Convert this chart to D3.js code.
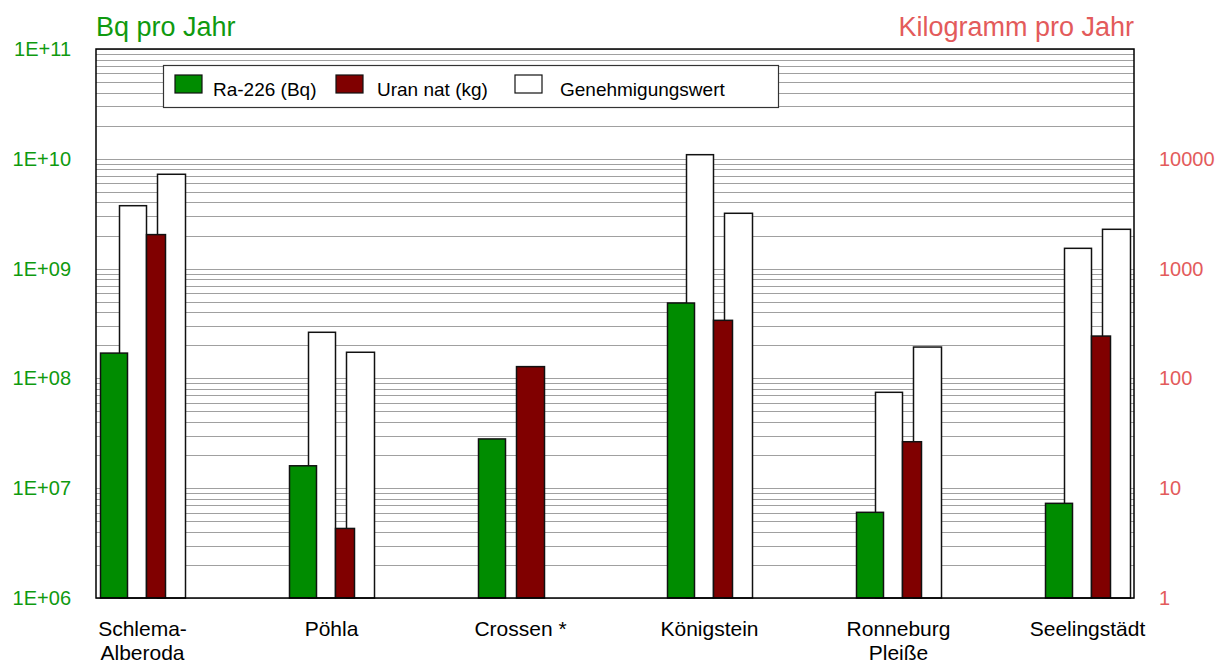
<!DOCTYPE html>
<html>
<head>
<meta charset="utf-8">
<script src="https://cdn.jsdelivr.net/npm/d3@7"></script>
<style>
  body { margin: 0; background: #fff; }
  text { font-family: "Liberation Sans", Arial, sans-serif; }
</style>
</head>
<body>
<div id="chart"></div>
<script>
// Categories (line breaks with "\n")
var sites = ["Schlema-\nAlberoda", "Pöhla", "Crossen *", "Königstein", "Ronneburg\nPleiße", "Seelingstädt"];

// Ra-226 discharge, Bq per year, and its permit value
var ra226 = [1.70e8, 1.60e7, 2.81e7, 4.86e8, 6.03e6, 7.28e6];
var ra226Permit = [3.74e9, 2.63e8, null, 1.09e10, 7.47e7, 1.53e9];

// natural uranium discharge, kg per year, and its permit value
var uran = [2040, 4.3, 128, 338, 26.5, 243];
var uranPermit = [7230, 173, null, 3190, 193, 2280];

// tick labels
var bqTicks = [1e6, 1e7, 1e8, 1e9, 1e10, 1e11];
var bqTickLabels = ["1E+06", "1E+07", "1E+08", "1E+09", "1E+10", "1E+11"];
var kgTicks = [1, 10, 100, 1000, 10000];
var kgTickLabels = ["1", "10", "100", "1000", "10000"];

var legendNames = ["Ra-226 (Bq)", "Uran nat (kg)", "Genehmigungswert"];

//Width and height
var w = 1230;
var h = 664;
var plotLeft = 96, plotRight = 1134, plotTop = 49, plotBottom = 598;

var green = "#008c00";
var maroon = "#800000";
var textGreen = "#0f9a0f";
var textRed = "#e35b5b";

var svg = d3.select("#chart")
            .append("svg")
            .attr("width", w)
            .attr("height", h);

//Scales
var x = d3.scaleBand()
          .domain(d3.range(sites.length))
          .range([48, 1182]);

var yBq = d3.scaleLog()
            .domain([1e6, 1e11])
            .range([plotBottom, plotTop]);

var yKg = d3.scaleLog()
            .domain([1, 1e5])
            .range([plotBottom, plotTop]);

function center(i) { return x(i) + x.bandwidth() / 2; }

//Gridlines: every 1..9 per decade
var grid = [];
for (var e = 6; e < 11; e++) {
    for (var m = 1; m <= 9; m++) grid.push(m * Math.pow(10, e));
}
grid.push(1e11);

svg.append("g")
   .selectAll("line")
   .data(grid)
   .enter()
   .append("line")
   .attr("x1", plotLeft)
   .attr("x2", plotRight)
   .attr("y1", function(d) { return Math.round(yBq(d)) + 0.5; })
   .attr("y2", function(d) { return Math.round(yBq(d)) + 0.5; })
   .attr("stroke", "#a0a0a0")
   .attr("stroke-width", 1.2);

var bars = svg.append("g")
              .attr("stroke", "#111")
              .attr("stroke-width", 1.5);

//Ra permit (white, behind green)
bars.selectAll(".raPermit")
    .data(d3.range(sites.length).filter(function(i) { return ra226Permit[i] != null; }))
    .enter()
    .append("rect")
    .attr("x", function(i) { return center(i) - 23; })
    .attr("width", 27)
    .attr("y", function(i) { return yBq(ra226Permit[i]); })
    .attr("height", function(i) { return plotBottom - yBq(ra226Permit[i]); })
    .attr("fill", "#fff");

//Ra-226
bars.selectAll(".ra")
    .data(d3.range(sites.length))
    .enter()
    .append("rect")
    .attr("x", function(i) { return center(i) - 42; })
    .attr("width", 27)
    .attr("y", function(i) { return yBq(ra226[i]); })
    .attr("height", function(i) { return plotBottom - yBq(ra226[i]); })
    .attr("fill", green);

//Uran permit (white, behind red)
bars.selectAll(".uPermit")
    .data(d3.range(sites.length).filter(function(i) { return uranPermit[i] != null; }))
    .enter()
    .append("rect")
    .attr("x", function(i) { return center(i) + 15; })
    .attr("width", 28)
    .attr("y", function(i) { return yKg(uranPermit[i]); })
    .attr("height", function(i) { return plotBottom - yKg(uranPermit[i]); })
    .attr("fill", "#fff");

//Uran nat
bars.selectAll(".uran")
    .data(d3.range(sites.length))
    .enter()
    .append("rect")
    .attr("x", function(i) { return uranPermit[i] == null ? center(i) - 4 : center(i) + 4; })
    .attr("width", function(i) { return uranPermit[i] == null ? 28 : 19; })
    .attr("y", function(i) { return yKg(uran[i]); })
    .attr("height", function(i) { return plotBottom - yKg(uran[i]); })
    .attr("fill", maroon);

//Frame
svg.append("rect")
   .attr("x", plotLeft)
   .attr("y", plotTop)
   .attr("width", plotRight - plotLeft)
   .attr("height", plotBottom - plotTop)
   .attr("fill", "none")
   .attr("stroke", "#000")
   .attr("stroke-width", 1.5);

//Left axis
var axisL = svg.append("g")
   .attr("transform", "translate(71,0)")
   .call(d3.axisLeft(yBq)
           .tickValues(bqTicks)
           .tickSize(0)
           .tickPadding(0)
           .tickFormat(function(d, i) { return bqTickLabels[i]; }));
axisL.select(".domain").remove();
axisL.selectAll("text")
     .attr("fill", textGreen)
     .style("font-size", "20px")
     .style("font-family", "Liberation Sans, Arial, sans-serif");

//Right axis
var axisR = svg.append("g")
   .attr("transform", "translate(1159,0)")
   .call(d3.axisRight(yKg)
           .tickValues(kgTicks)
           .tickSize(0)
           .tickPadding(0)
           .tickFormat(function(d, i) { return kgTickLabels[i]; }));
axisR.select(".domain").remove();
axisR.selectAll("text")
     .attr("fill", textRed)
     .style("font-size", "20px")
     .style("font-family", "Liberation Sans, Arial, sans-serif");

//Axis titles
svg.append("text")
   .attr("x", 96)
   .attr("y", 36)
   .attr("fill", textGreen)
   .style("font-size", "27px")
   .text("Bq pro Jahr");

svg.append("text")
   .attr("x", 1134)
   .attr("y", 36)
   .attr("text-anchor", "end")
   .attr("fill", textRed)
   .style("font-size", "27px")
   .text("Kilogramm pro Jahr");

//Category labels
var cat = svg.append("g")
   .selectAll("text")
   .data(sites)
   .enter()
   .append("text")
   .attr("text-anchor", "middle")
   .attr("fill", "#000")
   .style("font-size", "21px");
cat.each(function(d, i) {
    var lines = d.split("\n");
    var t = d3.select(this);
    lines.forEach(function(l, k) {
        t.append("tspan")
         .attr("x", center(i))
         .attr("y", 636 + k * 24)
         .text(l);
    });
});

//Legend
var lg = svg.append("g");
lg.append("rect")
  .attr("x", 163.5)
  .attr("y", 65.5)
  .attr("width", 615)
  .attr("height", 42)
  .attr("fill", "#fff")
  .attr("stroke", "#333")
  .attr("stroke-width", 1.2);

var legendFill = [green, maroon, "#fff"];
var legendX = [175, 336, 515];
var legendTextX = [213, 377, 560];
legendNames.forEach(function(n, i) {
    lg.append("rect")
      .attr("x", legendX[i])
      .attr("y", 75)
      .attr("width", 27)
      .attr("height", 18)
      .attr("fill", legendFill[i])
      .attr("stroke", "#111")
      .attr("stroke-width", 1.2);
    lg.append("text")
      .attr("x", legendTextX[i])
      .attr("y", 96)
      .style("font-size", "19px")
      .attr("fill", "#000")
      .text(n);
});
</script>
</body>
</html>
